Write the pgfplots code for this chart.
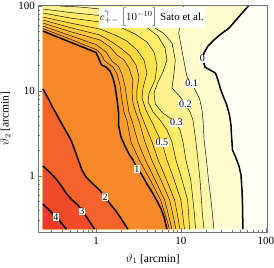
\documentclass[border=0pt]{standalone}
\usepackage{fontspec}
\setmainfont{Liberation Serif}
\usepackage{pgfplots}
\usepackage{pgfplotstable}
\pgfplotsset{compat=1.18}
\definecolor{cneg}{HTML}{FFFFF2}
\definecolor{cA}{HTML}{FFFBCF}
\definecolor{cB}{HTML}{FFF6AE}
\definecolor{cC}{HTML}{FFF28C}
\definecolor{cD}{HTML}{FFEB6A}
\definecolor{cE}{HTML}{FFE452}
\definecolor{cF}{HTML}{FFD840}
\definecolor{cG}{HTML}{FDC938}
\definecolor{cH}{HTML}{FCBA33}
\definecolor{cI}{HTML}{FBAB2F}
\definecolor{cJ}{HTML}{FA9D2C}
\definecolor{cK}{HTML}{F8892A}
\definecolor{cL}{HTML}{F4642A}
\definecolor{cM}{HTML}{F04C2A}
\definecolor{cN}{HTML}{EC3A2A}
% contour lines, coordinates are log10(theta/arcmin)
\pgfplotstableread{
x y
1.794 2.0
1.729 1.929
1.659 1.847
1.565 1.741
1.471 1.671
1.388 1.600
1.318 1.529
1.271 1.447
1.253 1.388
1.282 1.282
1.341 1.247
1.406 1.212
1.435 1.129
1.465 1.024
1.500 0.929
1.535 0.847
1.571 0.718
1.588 0.600
1.594 0.482
1.606 0.306
1.647 0.212
1.682 0.118
1.706 0.012
1.718 -0.165
1.724 -0.341
1.729 -0.625
}\tZero
\pgfplotstableread{
x y
1.029 2.0
1.000 1.894
0.988 1.776
0.973 1.682
1.000 1.541
1.032 1.365
1.071 1.165
1.118 1.091
1.161 1.024
1.220 0.906
1.247 0.776
1.259 0.659
1.271 0.435
1.298 0.200
1.324 -0.047
1.353 -0.282
1.371 -0.459
1.388 -0.625
}\tA
\pgfplotstableread{
x y
-0.424 2.0
-0.188 1.988
0.047 1.965
0.400 1.871
0.635 1.776
0.796 1.679
0.894 1.565
0.933 1.365
0.918 1.212
0.894 1.035
0.988 0.933
1.051 0.847
1.106 0.753
1.141 0.659
1.176 0.400
1.200 0.188
1.224 -0.047
1.241 -0.282
1.253 -0.459
1.271 -0.625
}\tB
\pgfplotstableread{
x y
-0.625 1.965
-0.306 1.924
0.047 1.888
0.341 1.847
0.576 1.765
0.729 1.647
0.812 1.506
0.835 1.365
0.788 1.224
0.729 1.106
0.682 0.976
0.698 0.847
0.776 0.749
0.871 0.682
0.945 0.627
0.988 0.541
1.024 0.400
1.058 0.188
1.115 -0.047
1.141 -0.282
1.159 -0.459
1.171 -0.625
}\tC
\pgfplotstableread{
x y
-0.625 1.918
-0.306 1.859
0.047 1.812
0.282 1.753
0.459 1.671
0.600 1.576
0.682 1.459
0.718 1.306
0.694 1.129
0.624 0.976
0.612 0.871
0.671 0.753
0.753 0.659
0.835 0.541
0.894 0.400
0.941 0.188
1.012 -0.047
1.078 -0.282
1.091 -0.459
1.100 -0.625
}\tD
\pgfplotstableread{
x y
-0.625 1.871
-0.306 1.800
0.047 1.729
0.224 1.659
0.365 1.588
0.482 1.482
0.565 1.365
0.600 1.212
0.553 1.035
0.541 0.918
0.588 0.776
0.659 0.635
0.718 0.506
0.776 0.394
0.835 0.188
0.920 -0.047
0.999 -0.282
1.021 -0.459
1.041 -0.625
}\tE
\pgfplotstableread{
x y
-0.625 1.835
-0.306 1.747
0.047 1.659
0.188 1.576
0.306 1.494
0.400 1.412
0.471 1.306
0.506 1.165
0.482 1.012
0.482 0.894
0.518 0.753
0.565 0.635
0.659 0.400
0.731 0.188
0.831 -0.047
0.925 -0.282
0.959 -0.459
0.988 -0.625
}\tF
\pgfplotstableread{
x y
-0.625 1.800
-0.306 1.700
0.047 1.600
0.165 1.518
0.247 1.424
0.329 1.365
0.388 1.271
0.435 1.129
0.424 0.988
0.435 0.859
0.471 0.741
0.506 0.647
0.576 0.400
0.656 0.188
0.764 -0.047
0.866 -0.282
0.906 -0.459
0.941 -0.625
}\tG
\pgfplotstableread{
x y
-0.625 1.765
-0.306 1.653
0 1.547
0.118 1.459
0.188 1.353
0.259 1.294
0.306 1.200
0.341 1.059
0.365 0.894
0.388 0.753
0.424 0.647
0.494 0.400
0.581 0.188
0.696 -0.047
0.807 -0.282
0.853 -0.459
0.894 -0.625
}\tH
\pgfplotstableread{
x y
-0.625 1.735
-0.306 1.612
0 1.488
0.059 1.435
0.094 1.365
0.141 1.324
0.200 1.282
0.247 1.200
0.282 1.071
0.306 0.894
0.329 0.753
0.365 0.647
0.412 0.400
0.509 0.188
0.638 -0.047
0.760 -0.282
0.815 -0.459
0.865 -0.625
}\tI
\pgfplotstableread{
x y
-0.625 1.706
-0.482 1.647
-0.306 1.576
-0.129 1.506
0 1.453
0.035 1.376
0.065 1.306
0.118 1.282
0.165 1.235
0.200 1.153
0.224 1.059
0.247 0.906
0.265 0.753
0.265 0.600
0.294 0.459
0.341 0.353
0.388 0.259
0.435 0.188
0.482 0.094
0.541 0.012
0.600 -0.094
0.659 -0.188
0.718 -0.294
0.765 -0.388
0.800 -0.482
0.835 -0.625
}\tOne
\pgfplotstableread{
x y
-0.625 1.024
-0.565 0.918
-0.506 0.800
-0.447 0.694
-0.388 0.588
-0.341 0.506
-0.294 0.424
-0.259 0.329
-0.229 0.247
-0.200 0.165
-0.165 0.071
-0.118 -0.012
-0.035 -0.094
0.047 -0.171
0.106 -0.247
0.176 -0.341
0.235 -0.412
0.282 -0.482
0.329 -0.553
0.376 -0.625
}\tTwo
\pgfplotstableread{
x y
-0.625 0.118
-0.541 0.041
-0.459 -0.047
-0.400 -0.129
-0.353 -0.200
-0.282 -0.282
-0.212 -0.341
-0.165 -0.412
-0.118 -0.471
-0.076 -0.535
-0.018 -0.625
}\tThree
\pgfplotstableread{
x y
-0.625 -0.329
-0.565 -0.388
-0.506 -0.447
-0.471 -0.482
-0.424 -0.533
-0.388 -0.576
-0.347 -0.625
}\tFour
\begin{document}
\begin{tikzpicture}[font=\fontsize{11}{13}\selectfont]
\useasboundingbox (0,0) rectangle (274pt,268pt);
\begin{axis}[
  at={(38.3pt,36pt)}, anchor=south west,
  scale only axis, width=228.7pt, height=227pt,
  xmin=-0.679, xmax=2.012, ymin=-0.659, ymax=2.012,
  axis on top,
  xtick={0,1,2}, xticklabels={1,10,100},
  ytick={0,1,2}, yticklabels={1,10,100},
  minor xtick={-0.523,-0.398,-0.301,-0.222,-0.155,-0.097,-0.046,0.301,0.477,0.602,0.699,0.778,0.845,0.903,0.954,1.301,1.477,1.602,1.699,1.778,1.845,1.903,1.954},
  minor ytick={-0.523,-0.398,-0.301,-0.222,-0.155,-0.097,-0.046,0.301,0.477,0.602,0.699,0.778,0.845,0.903,0.954,1.301,1.477,1.602,1.699,1.778,1.845,1.903,1.954},
  tick pos=left, tick align=inside,
  major tick length=4pt, minor tick length=2pt,
  axis line style={black!55, line width=0.5pt},
  tick style={black!55, line width=0.4pt},
  tick label style={font=\fontsize{11}{13}\selectfont},
  xticklabel style={yshift=-1.5pt},
  xlabel={$\vartheta_1$ [arcmin]},
  ylabel={$\vartheta_2$ [arcmin]},
  label style={font=\fontsize{11.5}{13}\selectfont},
  xlabel style={yshift=-2.5pt},
  ylabel style={yshift=1pt},
]
% filled bands (from lowest level upward)
\addplot[fill=cneg, draw=none] coordinates {(-0.625,-0.625) (2.0,-0.625) (2.0,2.0) (-0.625,2.0)} -- cycle;
\addplot[fill=cA, draw=none] table {\tZero} -- (axis cs:-0.625,-0.625) -- (axis cs:-0.625,2.0) -- cycle;
\addplot[fill=cB, draw=none] table {\tA} -- (axis cs:-0.625,-0.625) -- (axis cs:-0.625,2.0) -- cycle;
\addplot[fill=cC, draw=none] table {\tB} -- (axis cs:-0.625,-0.625) -- (axis cs:-0.625,2.0) -- cycle;
\addplot[fill=cD, draw=none] table {\tC} -- (axis cs:-0.625,-0.625) -- cycle;
\addplot[fill=cE, draw=none] table {\tD} -- (axis cs:-0.625,-0.625) -- cycle;
\addplot[fill=cF, draw=none] table {\tE} -- (axis cs:-0.625,-0.625) -- cycle;
\addplot[fill=cG, draw=none] table {\tF} -- (axis cs:-0.625,-0.625) -- cycle;
\addplot[fill=cH, draw=none] table {\tG} -- (axis cs:-0.625,-0.625) -- cycle;
\addplot[fill=cI, draw=none] table {\tH} -- (axis cs:-0.625,-0.625) -- cycle;
\addplot[fill=cJ, draw=none] table {\tI} -- (axis cs:-0.625,-0.625) -- cycle;
\addplot[fill=cK, draw=none] table {\tOne} -- (axis cs:-0.625,-0.625) -- cycle;
\addplot[fill=cL, draw=none] table {\tTwo} -- (axis cs:-0.625,-0.625) -- cycle;
\addplot[fill=cM, draw=none] table {\tThree} -- (axis cs:-0.625,-0.625) -- cycle;
\addplot[fill=cN, draw=none] table {\tFour} -- (axis cs:-0.625,-0.625) -- cycle;
% contour lines
\pgfplotsset{thinc/.style={black, line width=0.45pt, line join=round, mark=none}, thickc/.style={black, line width=1.5pt, line join=round, mark=none}}
\addplot[thinc] table {\tA};
\addplot[thinc] table {\tB};
\addplot[thinc] table {\tC};
\addplot[thinc] table {\tD};
\addplot[thinc] table {\tE};
\addplot[thinc] table {\tF};
\addplot[thinc] table {\tG};
\addplot[thinc] table {\tH};
\addplot[thinc] table {\tI};
\addplot[thickc] table {\tZero};
\addplot[thickc] table {\tOne};
\addplot[thickc] table {\tTwo};
\addplot[thickc] table {\tThree};
\addplot[thickc] table {\tFour};
% contour labels
\tikzset{cl/.style={fill=white, inner sep=0.6pt, font=\fontsize{10}{11}\selectfont}}
\node[cl] at (axis cs:1.253,1.382) {0};
\node[cl] at (axis cs:1.124,1.088) {0.1};
\node[cl] at (axis cs:1.051,0.847) {0.2};
\node[cl] at (axis cs:0.945,0.627) {0.3};
\node[cl] at (axis cs:0.776,0.394) {0.5};
\node[cl] at (axis cs:0.482,0.082) {1};
\node[cl] at (axis cs:0.106,-0.251) {2};
\node[cl] at (axis cs:-0.165,-0.418) {3};
\node[cl] at (axis cs:-0.471,-0.482) {4};
\node[fill=white, inner sep=1.2pt, anchor=west, font=\fontsize{11}{13}\selectfont] at (axis cs:0.03,1.865) {$c{}^{\raisebox{2pt}{$\scriptstyle\gamma$}}_{+-}\;\Bigl[10^{-10}\Bigr]$ Sato et al.};
\end{axis}
\end{tikzpicture}
\end{document}
